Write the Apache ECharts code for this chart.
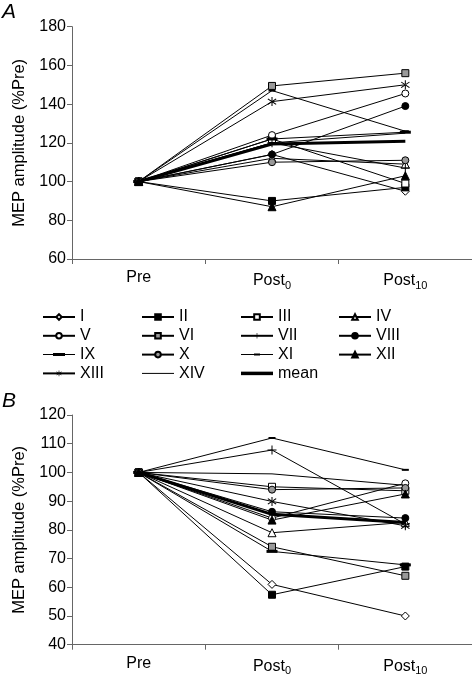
<!DOCTYPE html>
<html><head><meta charset="utf-8">
<script src="https://cdn.jsdelivr.net/npm/echarts@6/dist/echarts.min.js"></script>
<style>html,body{margin:0;padding:0;background:#fff}#c{width:472px;height:678px}</style>
</head><body><div id="c"></div>
<script>
const categories = ['Pre', 'Post0', 'Post10'];
const subjects = ['I','II','III','IV','V','VI','VII','VIII','IX','X','XI','XII','XIII','XIV','mean'];
// Panel A values (Pre, Post0, Post10)
const valuesA = {
  'I':    [100, 114, 95],
  'II':   [100, 90, 97],
  'III':  [100, 122, 99],
  'IV':   [100, 112, 109],
  'V':    [100, 124, 145.5],
  'VI':   [100, 149.4, 156],
  'VII':  [100, 120, 107],
  'VIII': [100, 114, 139],
  'IX':   [100, 122, 125.5],
  'X':    [100, 110, 111],
  'XI':   [100, 147, 126],
  'XII':  [100, 87, 103],
  'XIII': [100, 141.3, 150],
  'XIV':  [100, 120, 125],
  'mean': [100, 119.4, 120.8]
};
// Panel B values
const valuesB = {
  'I':    [100, 61, 50],
  'II':   [100, 57.4, 67.2],
  'III':  [100, 95, 93.6],
  'IV':   [100, 79, 82.6],
  'V':    [100, 84.1, 96.2],
  'VI':   [100, 74.1, 64],
  'VII':  [100, 107.8, 82],
  'VIII': [100, 86.3, 84.1],
  'IX':   [100, 72.5, 67.8],
  'X':    [100, 94, 94.6],
  'XI':   [100, 112, 100.9],
  'XII':  [100, 83.4, 92.5],
  'XIII': [100, 89.9, 81.4],
  'XIV':  [100, 99.5, 95.5],
  'mean': [100, 85.4, 82.6]
};
const yTicksA = [60, 80, 100, 120, 140, 160, 180];
const yTicksB = [40, 50, 60, 70, 80, 90, 100, 110, 120];

const PLUS = 'path://M4,0h1v4h4v1h-4v4h-1v-4h-4v-1h4z';
const AST = 'path://M4.5,0h1v10h-1z M0.6,2.3L1.3,1.5L9.4,7.7L8.7,8.5z M9.4,2.3L8.7,1.5L0.6,7.7L1.3,8.5z';
const THICKDASH = 'path://M0,0h12v3h-12z';
const THINDASH = 'path://M0,0h8v2h-8z';
const markerStyle = {
  'I':    {symbol:'diamond', size:8, color:'#fff'},
  'II':   {symbol:'rect', size:7, color:'#000'},
  'III':  {symbol:'rect', size:7, color:'#fff'},
  'IV':   {symbol:'triangle', size:8, color:'#fff'},
  'V':    {symbol:'circle', size:7, color:'#fff'},
  'VI':   {symbol:'rect', size:7, color:'#999'},
  'VII':  {symbol:PLUS, size:9, color:'#000', noBorder:true},
  'VIII': {symbol:'circle', size:7, color:'#000'},
  'IX':   {symbol:THICKDASH, size:[11,3], color:'#000', noBorder:true},
  'X':    {symbol:'circle', size:7, color:'#999'},
  'XI':   {symbol:THINDASH, size:[7,2], color:'#000', noBorder:true},
  'XII':  {symbol:'triangle', size:8, color:'#000'},
  'XIII': {symbol:AST, size:9, color:'#000', noBorder:true},
  'XIV':  {symbol:'none', size:0, color:'#000'},
  'mean': {symbol:'none', size:0, color:'#000'}
};
// legend icons for entries whose marker cannot be shown by the default line+symbol icon
const legendIcons = {
  'IX':   'path://M0,3.5h32v1h-32z M10,2.5h12v3h-12z',
  'XI':   'path://M0,3.5h32v1h-32z M13,3h6v2h-6z',
  'XIV':  'path://M0,0h32v1h-32z',
  'mean': 'path://M0,0h32v3.5h-32z'
};

const FONT = 'Liberation Sans, Arial, sans-serif';
function xAxis(gridIndex){
  return {
    type:'category', gridIndex, data: categories, boundaryGap:true,
    axisLine:{lineStyle:{color:'#666', width:1}},
    axisTick:{show:true, length:5, lineStyle:{color:'#666'}},
    axisLabel:{
      margin:11, color:'#000', fontFamily:FONT, fontSize:16,
      formatter: v => v.startsWith('Post') ? 'Post{sub|' + v.slice(4) + '}' : v,
      rich:{ sub:{fontSize:11, fontFamily:FONT, color:'#000', padding:[10,0,0,0]} }
    }
  };
}
function yAxis(gridIndex, ticks){
  return {
    type:'value', gridIndex, min: ticks[0], max: ticks[ticks.length-1],
    interval: ticks[1]-ticks[0],
    name:'MEP amplitude (%Pre)', nameLocation:'middle', nameGap:40,
    nameTextStyle:{color:'#000', fontFamily:FONT, fontSize:16.5},
    axisLine:{show:true, lineStyle:{color:'#666', width:1}},
    axisTick:{show:true, length:5, lineStyle:{color:'#666'}},
    splitLine:{show:false},
    axisLabel:{color:'#000', fontFamily:FONT, fontSize:16, margin:6}
  };
}
const series = [];
[valuesA, valuesB].forEach((vals, gi) => {
  subjects.forEach(name => {
    const m = markerStyle[name];
    series.push({
      name, type:'line', xAxisIndex:gi, yAxisIndex:gi,
      data: vals[name],
      symbol: m.symbol, symbolSize: m.size, showSymbol: m.symbol !== 'none',
      lineStyle:{color:'#000', width: name === 'mean' ? 3 : 1},
      itemStyle:{color: m.color, borderColor:'#000', borderWidth: m.noBorder ? 0 : 1},
      z: name === 'mean' ? 3 : 2,
      emphasis:{disabled:true}, silent:true
    });
  });
});
const columns = [
  {left:42, data:['I','V','IX','XIII']},
  {left:141, data:['II','VI','X','XIV']},
  {left:240, data:['III','VII','XI','mean']},
  {left:338, data:['IV','VIII','XII']}
];
const legends = columns.map(c => ({
  orient:'vertical', left:c.left, top:309, padding:0, itemGap:2.8,
  itemWidth:32, itemHeight:7, selectedMode:false,
  data: c.data.map(n => legendIcons[n]
    ? {name:n, icon:legendIcons[n], itemStyle:{color:'#000', borderWidth:0}}
    : {name:n}),
  textStyle:{color:'#000', fontFamily:FONT, fontSize:16, lineHeight:16}
}));
const chart = echarts.init(document.getElementById('c'), null, {renderer:'canvas'});
chart.setOption({
  animation:false,
  backgroundColor:'#fff',
  title:[
    {text:'A', left:2, top:2, padding:0, textStyle:{fontFamily:FONT, fontSize:21, fontStyle:'italic', fontWeight:'normal', color:'#000'}},
    {text:'B', left:2, top:391, padding:0, textStyle:{fontFamily:FONT, fontSize:21, fontStyle:'italic', fontWeight:'normal', color:'#000'}}
  ],
  legend: legends,
  grid:[
    {left:72, top:26.7, width:400, height:232.3},
    {left:72, top:415, width:400, height:229.7}
  ],
  xAxis:[xAxis(0), xAxis(1)],
  yAxis:[yAxis(0, yTicksA), yAxis(1, yTicksB)],
  series
});
</script></body></html>
